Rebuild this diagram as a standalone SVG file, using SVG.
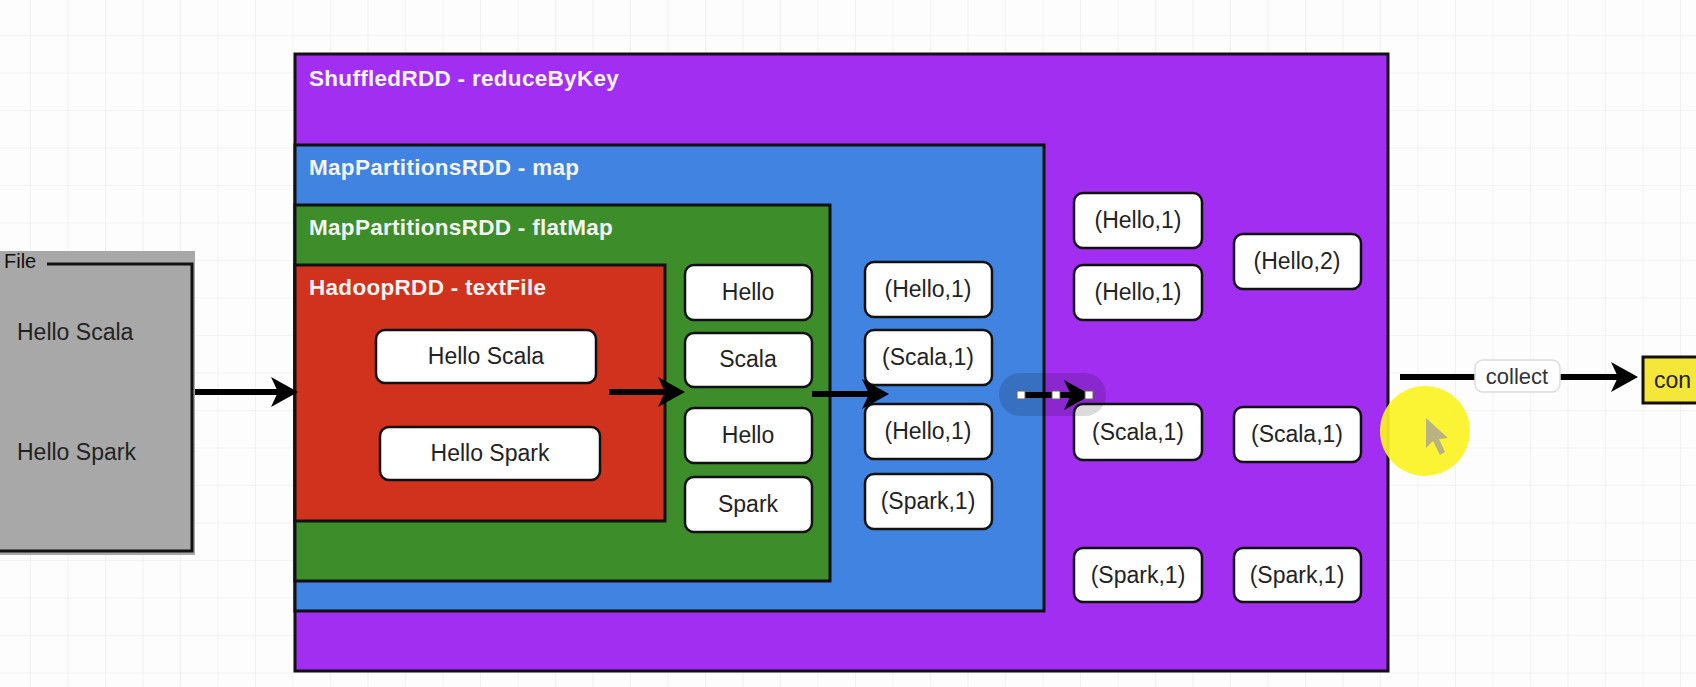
<svg xmlns="http://www.w3.org/2000/svg" width="1696" height="687" viewBox="0 0 1696 687">
<style>
.lbl{font-family:"Liberation Sans",Arial,sans-serif;font-size:23px;fill:#232323}
.title{font-family:"Liberation Sans",Arial,sans-serif;font-size:22.5px;font-weight:bold;fill:#f4f4f4;letter-spacing:0.3px}
.rdd{stroke:#111;stroke-width:3}
.box rect{fill:#fff;stroke:#111;stroke-width:2.5}
.box text{font-family:"Liberation Sans",Arial,sans-serif;font-size:23px;fill:#232323;text-anchor:middle}
.conn{stroke:#000;stroke-width:6;fill:none;marker-end:url(#ah)}
</style>
<defs>
<pattern id="grid" width="37.5" height="37.5" patternUnits="userSpaceOnUse" x="30" y="35">
<path d="M37.5 0H0V37.5" fill="none" stroke="#e9e9e9" stroke-width="1.2"/>
</pattern>
<marker id="ah" markerUnits="userSpaceOnUse" markerWidth="27" markerHeight="30" refX="7" refY="15" orient="auto" viewBox="0 0 27 30">
<path d="M0,0 L27,15 L0,30 L7,15 Z" fill="#000"/>
</marker>
</defs>
<rect width="1696" height="687" fill="#fdfdfd"/>
<rect width="1696" height="687" fill="url(#grid)"/>

<g id="file">
<rect x="-2" y="251" width="197" height="304" fill="#a8a8a8"/>
<path d="M47,264 H192 V551 H-2" fill="none" stroke="#111" stroke-width="3"/>
<text class="lbl" x="4" y="268" style="font-size:20px;fill:#111">File</text>
<text class="lbl" x="17" y="340">Hello Scala</text>
<text class="lbl" x="17" y="460">Hello Spark</text>
</g>

<g id="shuffledRDD">
<rect class="rdd" x="295" y="54" width="1093" height="617" fill="#a22ef2"/>
<text class="title" x="309" y="86">ShuffledRDD - reduceByKey</text>
</g>
<g id="mapRDD">
<rect class="rdd" x="295" y="145" width="749" height="466" fill="#4183e0"/>
<text class="title" x="309" y="175">MapPartitionsRDD - map</text>
</g>
<g id="flatMapRDD">
<rect class="rdd" x="295" y="205" width="535" height="376" fill="#3d8e2a"/>
<text class="title" x="309" y="235">MapPartitionsRDD - flatMap</text>
</g>
<g id="hadoopRDD">
<rect class="rdd" x="295" y="265" width="370" height="256" fill="#d1321e"/>
<text class="title" x="309" y="295">HadoopRDD - textFile</text>
</g>

<g id="t1" class="box"><rect x="376" y="330" width="220" height="53" rx="9"/><text x="486" y="364">Hello Scala</text></g>
<g id="t2" class="box"><rect x="380" y="427" width="220" height="53" rx="9"/><text x="490" y="461">Hello Spark</text></g>

<g id="f1" class="box"><rect x="685" y="265" width="127" height="55" rx="9"/><text x="748" y="300">Hello</text></g>
<g id="f2" class="box"><rect x="685" y="333" width="127" height="54" rx="9"/><text x="748" y="367">Scala</text></g>
<g id="f3" class="box"><rect x="685" y="408" width="127" height="55" rx="9"/><text x="748" y="443">Hello</text></g>
<g id="f4" class="box"><rect x="685" y="477" width="127" height="55" rx="9"/><text x="748" y="512">Spark</text></g>

<g id="m1" class="box"><rect x="865" y="262" width="127" height="55" rx="9"/><text x="928" y="297">(Hello,1)</text></g>
<g id="m2" class="box"><rect x="865" y="330" width="127" height="55" rx="9"/><text x="928" y="365">(Scala,1)</text></g>
<g id="m3" class="box"><rect x="865" y="404" width="127" height="55" rx="9"/><text x="928" y="439">(Hello,1)</text></g>
<g id="m4" class="box"><rect x="865" y="474" width="127" height="55" rx="9"/><text x="928" y="509">(Spark,1)</text></g>

<g id="s1" class="box"><rect x="1074" y="193" width="128" height="55" rx="9"/><text x="1138" y="228">(Hello,1)</text></g>
<g id="s2" class="box"><rect x="1074" y="265" width="128" height="55" rx="9"/><text x="1138" y="300">(Hello,1)</text></g>
<g id="s3" class="box"><rect x="1074" y="404" width="128" height="56" rx="9"/><text x="1138" y="440">(Scala,1)</text></g>
<g id="s4" class="box"><rect x="1074" y="548" width="128" height="54" rx="9"/><text x="1138" y="583">(Spark,1)</text></g>

<g id="r1" class="box"><rect x="1234" y="234" width="127" height="55" rx="9"/><text x="1297" y="269">(Hello,2)</text></g>
<g id="r2" class="box"><rect x="1234" y="407" width="127" height="55" rx="9"/><text x="1297" y="442">(Scala,1)</text></g>
<g id="r3" class="box"><rect x="1234" y="548" width="127" height="54" rx="9"/><text x="1297" y="583">(Spark,1)</text></g>

<g id="con">
<rect x="1643" y="357" width="70" height="46" fill="#f5e73a" stroke="#111" stroke-width="3"/>
<text class="lbl" x="1654" y="388">con</text>
</g>

<g id="connectors">
<line class="conn" x1="195" y1="392" x2="278" y2="392"/>
<line class="conn" x1="609" y1="392" x2="665" y2="392"/>
<line class="conn" x1="812" y1="394" x2="869" y2="394"/>
<rect x="999" y="373" width="107" height="43" rx="21" fill="#000" opacity="0.14"/>
<line class="conn" x1="1019" y1="395" x2="1071" y2="395"/>
<rect x="1017" y="391" width="8" height="8" fill="#fff" stroke="#666" stroke-width="1"/>
<rect x="1052" y="391" width="8" height="8" fill="#fff" stroke="#666" stroke-width="1"/>
<rect x="1085" y="391" width="8" height="8" fill="#fff" stroke="#666" stroke-width="1"/>
<line class="conn" x1="1400" y1="377" x2="1618" y2="377"/>
<rect x="1475" y="360" width="85" height="32" rx="8" fill="#fff" stroke="#dcdcdc" stroke-width="1.5"/>
<text class="lbl" x="1517" y="384" text-anchor="middle" style="font-size:22px;fill:#333">collect</text>
</g>

<g id="cursor">
<circle cx="1425" cy="431" r="45" fill="#fbf323" opacity="0.92"/>
<path d="M1426,418 L1426,448 L1433,441 L1440,455 L1445,452 L1439,439 L1448,438 Z" fill="#a9a296" opacity="0.8"/>
</g>
</svg>
